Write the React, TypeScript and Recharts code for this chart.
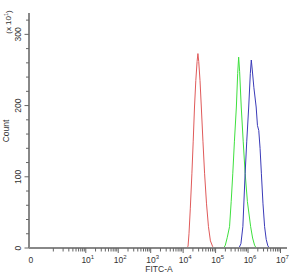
import { LineChart, Line, XAxis, YAxis } from "recharts";

// x positions are in decades (log10 of FITC-A); "0" sits left of 10^1
const redPos = [4.1, 4.15, 4.18, 4.22, 4.27, 4.31, 4.35, 4.39, 4.43, 4.455, 4.48, 4.52, 4.56, 4.61, 4.66, 4.72, 4.78, 4.84, 4.91, 4.95];
const redCount = [0, 2, 20, 55, 105, 150, 198, 235, 262, 273, 262, 235, 198, 150, 105, 62, 30, 10, 2, 0];

const greenPos = [5.25, 5.3, 5.36, 5.43, 5.48, 5.53, 5.58, 5.64, 5.68, 5.71, 5.74, 5.79, 5.85, 5.91, 5.98, 6.08, 6.14, 6.2, 6.25];
const greenCount = [0, 4, 15, 30, 65, 105, 150, 198, 245, 268, 248, 198, 150, 105, 65, 30, 14, 4, 0];

const bluePos = [5.72, 5.78, 5.84, 5.91, 5.96, 6.02, 6.07, 6.1, 6.13, 6.18, 6.25, 6.29, 6.33, 6.37, 6.41, 6.46, 6.51, 6.56, 6.61, 6.66];
const blueCount = [0, 6, 30, 105, 150, 198, 245, 264, 250, 225, 198, 172, 165, 140, 105, 62, 30, 12, 3, 0];

const zeroPos = -0.72;
const decades = [1, 2, 3, 4, 5, 6, 7];
const minorX = [0, ...[0, 1, 2, 3, 4, 5, 6].flatMap((d) =>
  [2, 3, 4, 5, 6, 7, 8, 9].map((k) => d + Math.log10(k))
)];
const majorY = [0, 100, 200, 300];
const minorY = [20, 40, 60, 80, 120, 140, 160, 180, 220, 240, 260, 280, 320];

const toRows = (pos: number[], count: number[]) =>
  pos.map((x, i) => ({ x, count: count[i] }));

const redData = toRows(redPos, redCount);
const greenData = toRows(greenPos, greenCount);
const blueData = toRows(bluePos, blueCount);

const font = "'Liberation Sans', Arial, sans-serif";
const textColor = "#333";

function XTick(props: any) {
  const { x, y, payload } = props;
  const v = payload.value;
  const isZero = Math.abs(v - zeroPos) < 1e-6;
  const major = isZero || decades.includes(v);
  return (
    <g>
      {!isZero && (
        <line x1={x} x2={x} y1={y - 8} y2={y - 8 + (major ? 5 : 3.5)} stroke="#666" strokeWidth={1} />
      )}
      {isZero && (
        <text x={x + 1} y={y + 6.5} textAnchor="middle" fontSize={8.5} fill={textColor} fontFamily={font}>
          0
        </text>
      )}
      {!isZero && major && (
        <text x={x + 2} y={y + 6.5} textAnchor="middle" fontSize={8.5} fill={textColor} fontFamily={font}>
          <tspan>10</tspan>
          <tspan dy={-3.5} fontSize={6}>{v}</tspan>
        </text>
      )}
    </g>
  );
}

function YTick(props: any) {
  const { y, payload } = props;
  const v = payload.value;
  const major = majorY.includes(v);
  return (
    <g>
      <line x1={major ? 24.5 : 26} x2={29} y1={y} y2={y} stroke="#666" strokeWidth={1} />
      {major && (
        <text
          x={21}
          y={y}
          transform={`rotate(-90 21 ${y})`}
          textAnchor="middle"
          fontSize={8.5}
          fill={textColor}
          fontFamily={font}
        >
          {v}
        </text>
      )}
    </g>
  );
}

export default function App() {
  return (
    <div style={{ position: "absolute", left: 0, top: 0, background: "#fff" }}>
      <LineChart
        width={292}
        height={275}
        margin={{ top: 13, right: 5, left: 0, bottom: 0 }}
      >
        <XAxis
          type="number"
          dataKey="x"
          xAxisId="main"
          domain={[-0.75, 7.2]}
          ticks={[zeroPos, ...decades, ...minorX]}
          interval={0}
          height={27}
          tickLine={false}
          axisLine={{ stroke: "#888", strokeWidth: 2 }}
          tick={<XTick />}
          allowDataOverflow
        />
        <XAxis
          type="number"
          xAxisId="top"
          orientation="top"
          domain={[-0.75, 7.2]}
          height={0}
          tick={false}
          tickLine={false}
          axisLine={{ stroke: "#555", strokeWidth: 1 }}
        />
        <YAxis
          type="number"
          yAxisId="main"
          domain={[0, 330]}
          ticks={[...majorY, ...minorY]}
          interval={0}
          width={29}
          tickLine={false}
          axisLine={{ stroke: "#888", strokeWidth: 2 }}
          tick={<YTick />}
          allowDataOverflow
        />
        <YAxis
          type="number"
          yAxisId="right"
          orientation="right"
          domain={[0, 330]}
          width={0}
          tick={false}
          tickLine={false}
          axisLine={{ stroke: "#555", strokeWidth: 1 }}
        />
        <Line data={redData} xAxisId="main" yAxisId="main" dataKey="count" type="linear" stroke="#e05a5a" strokeWidth={1} dot={false} isAnimationActive={false} />
        <Line data={greenData} xAxisId="main" yAxisId="main" dataKey="count" type="linear" stroke="#3ee03e" strokeWidth={1} dot={false} isAnimationActive={false} />
        <Line data={blueData} xAxisId="main" yAxisId="main" dataKey="count" type="linear" stroke="#3a3ab8" strokeWidth={1} dot={false} isAnimationActive={false} />
        <text x={9} y={131} transform="rotate(-90 9 131)" textAnchor="middle" fontSize={8.5} fill={textColor} fontFamily={font}>
          Count
        </text>
        <text x={11} y={22} transform="rotate(-90 11 22)" textAnchor="middle" fontSize={8} fill={textColor} fontFamily={font}>
          <tspan>(x 10</tspan>
          <tspan dy={-3} fontSize={5.5}>1</tspan>
          <tspan dy={3}>)</tspan>
        </text>
        <text x={159} y={272} textAnchor="middle" fontSize={8.5} fill={textColor} fontFamily={font}>
          FITC-A
        </text>
      </LineChart>
    </div>
  );
}
